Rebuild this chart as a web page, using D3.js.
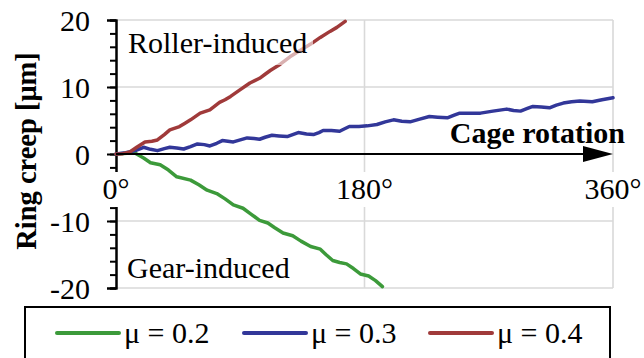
<!DOCTYPE html>
<html>
<head>
<meta charset="utf-8">
<script src="https://cdn.jsdelivr.net/npm/d3@7"></script>
<style>
  html, body { margin: 0; padding: 0; background: #fff; }
  svg { display: block; }
  svg text { font-family: "Liberation Serif", "Times New Roman", Tinos, "DejaVu Serif", serif; }
</style>
</head>
<body>
<svg id="chart" width="644" height="358"></svg>
<script>
// Ring creep versus cage rotation angle for three friction coefficients
const seriesNames = ["μ = 0.2", "μ = 0.3", "μ = 0.4"];
const seriesColors = ["#3c9a3a", "#323799", "#a03a3a"];

const anglesMu02 = [0, 8, 14, 20, 25, 32, 38, 44, 54, 60, 66, 73, 79, 85, 92, 98, 104, 110, 115, 121, 128, 134, 141, 148, 152, 157, 162, 167, 172, 177, 183, 188, 193];
const creepMu02  = [0, 0.1, 0.1, -0.6, -1.3, -1.6, -2.4, -3.4, -3.9, -4.6, -5.4, -5.9, -6.7, -7.6, -8.1, -9.0, -9.9, -10.3, -11.0, -11.8, -12.2, -13.0, -13.8, -14.2, -15.0, -15.9, -16.2, -16.4, -17.1, -17.9, -18.2, -18.9, -19.8];

const anglesMu03 = [0, 7, 14, 20, 25, 30, 35, 39, 44, 49, 54, 59, 64, 68, 73, 77, 81, 85, 90, 95, 100, 104, 108, 113, 118, 124, 128, 132, 138, 143, 147, 150, 156, 162, 166, 169, 176, 182, 189, 195, 201, 207, 213, 220, 227, 233, 240, 245, 249, 257, 264, 273, 283, 288, 293, 298, 302, 308, 314, 319, 324, 330, 336, 345, 352, 360];
const creepMu03  = [0, 0.2, 0.5, 1.0, 0.7, 0.5, 0.8, 1.0, 0.9, 0.75, 1.1, 1.5, 1.4, 1.2, 1.6, 2.0, 1.9, 1.8, 2.1, 2.4, 2.3, 2.2, 2.5, 2.8, 2.7, 2.6, 2.9, 3.2, 3.0, 2.9, 3.2, 3.5, 3.5, 3.4, 3.8, 4.1, 4.1, 4.2, 4.4, 4.8, 5.1, 4.9, 4.8, 5.2, 5.6, 5.5, 5.4, 5.8, 6.1, 6.1, 6.1, 6.4, 6.7, 6.5, 6.4, 6.8, 7.1, 7.0, 6.9, 7.3, 7.6, 7.8, 7.9, 7.8, 8.1, 8.4];

const anglesMu04 = [0, 5, 10, 15, 21, 26, 30, 35, 39, 46, 50, 54, 61, 68, 75, 79, 83, 90, 97, 104, 108, 112, 119, 126, 133, 141, 148, 155, 160, 164, 166];
const creepMu04  = [0, 0.05, 0.3, 1.0, 1.8, 1.9, 2.1, 2.9, 3.6, 4.1, 4.6, 5.1, 6.1, 6.6, 7.7, 8.1, 8.6, 9.6, 10.6, 11.3, 11.9, 12.5, 13.4, 14.5, 15.4, 16.4, 17.4, 18.3, 18.9, 19.5, 19.8];

const xTickValues = [0, 180, 360];
const xTickLabels = ["0°", "180°", "360°"];
const yMajorTicks = [-20, -10, 0, 10, 20];
const yMinorTicks = [-20, -18, -16, -14, -12, -10, -8, -6, -4, -2, 0, 2, 4, 6, 8, 10, 12, 14, 16, 18, 20];

const series = [
  { name: seriesNames[0], color: seriesColors[0], pts: anglesMu02.map((a, i) => [a, creepMu02[i]]) },
  { name: seriesNames[1], color: seriesColors[1], pts: anglesMu03.map((a, i) => [a, creepMu03[i]]) },
  { name: seriesNames[2], color: seriesColors[2], pts: anglesMu04.map((a, i) => [a, creepMu04[i]]) }
];

const svg = d3.select("#chart");
const x = d3.scaleLinear().domain([0, 360]).range([116, 613]);
const y = d3.scaleLinear().domain([-20, 20]).range([288, 20]);
const FS = 30;

// Gridlines and plot-area frame
const grid = svg.append("g").attr("stroke", "#d9d9d9").attr("stroke-width", 1.6);
[-20, -10, 10, 20].forEach(v => grid.append("line")
  .attr("x1", x(0)).attr("x2", x(360)).attr("y1", y(v)).attr("y2", y(v)));
[180, 360].forEach(v => grid.append("line")
  .attr("x1", x(v)).attr("x2", x(v)).attr("y1", y(20)).attr("y2", y(-20)));

// Y axis: major and minor ticks
const yMinor = svg.append("g").attr("transform", `translate(${x(0)},0)`)
  .call(d3.axisLeft(y).tickValues(yMinorTicks).tickSize(6).tickFormat(""));
const yMajor = svg.append("g").attr("transform", `translate(${x(0)},0)`)
  .call(d3.axisLeft(y).tickValues(yMajorTicks).tickSize(9).tickPadding(17)
    .tickFormat(d => d3.format("d")(d).replace("−", "-")));
[yMinor, yMajor].forEach(g => {
  g.attr("font-family", null);
  g.select(".domain").attr("stroke", "#000").attr("stroke-width", 2);
  g.selectAll(".tick line").attr("stroke", "#000").attr("stroke-width", 2);
});
yMajor.selectAll(".tick text")
  .attr("font-size", FS).attr("fill", "#000").attr("dy", "0.34em");

// Series lines
const line = d3.line().x(d => x(d[0])).y(d => y(d[1]));
series.forEach(s => svg.append("path")
  .datum(s.pts)
  .attr("fill", "none").attr("stroke", s.color).attr("stroke-width", 3.5)
  .attr("stroke-linejoin", "round").attr("stroke-linecap", "round")
  .attr("d", line));

// X axis with arrow
svg.append("line")
  .attr("x1", x(0)).attr("x2", x(360) - 30).attr("y1", y(0)).attr("y2", y(0))
  .attr("stroke", "#000").attr("stroke-width", 2);
svg.append("path")
  .attr("d", `M${x(360) - 30},${y(0) - 8}L${x(360)},${y(0)}L${x(360) - 30},${y(0) + 8}Z`)
  .attr("fill", "#000");

// X tick labels on white boxes
xTickValues.forEach((v, i) => {
  const g = svg.append("g");
  const t = g.append("text")
    .attr("x", x(v)).attr("y", 199).attr("text-anchor", "middle")
    .attr("font-size", FS).text(xTickLabels[i]);
  const bb = t.node().getBBox();
  g.insert("rect", "text")
    .attr("x", bb.x - 3).attr("y", 172).attr("width", bb.width + 6).attr("height", 35)
    .attr("fill", "#fff");
});

// Annotations
const roller = svg.append("g");
roller.append("rect").attr("x", 122).attr("y", 26).attr("width", 191).attr("height", 39)
  .attr("fill", "#fff").attr("fill-opacity", 0.6);
roller.append("text").attr("x", 128).attr("y", 53).attr("font-size", FS).text("Roller-induced");

svg.append("text").attr("x", 127).attr("y", 278).attr("font-size", FS).text("Gear-induced");

svg.append("text").attr("x", 625).attr("y", 143).attr("text-anchor", "end")
  .attr("font-size", 30).attr("font-weight", "bold").text("Cage rotation");

// Y axis title
svg.append("text")
  .attr("transform", "translate(36,151) rotate(-90)")
  .attr("text-anchor", "middle").attr("font-size", 28.5).attr("font-weight", "bold")
  .text("Ring creep [μm]");

// Legend
svg.append("rect").attr("x", 25).attr("y", 307).attr("width", 585).attr("height", 70)
  .attr("fill", "#fff").attr("stroke", "#000").attr("stroke-width", 2);
const legendX = [57, 244, 430];
series.forEach((s, i) => {
  svg.append("line")
    .attr("x1", legendX[i]).attr("x2", legendX[i] + 62).attr("y1", 333).attr("y2", 333)
    .attr("stroke", s.color).attr("stroke-width", 4).attr("stroke-linecap", "round");
  svg.append("text").attr("x", legendX[i] + 67).attr("y", 343)
    .attr("font-size", FS).text(s.name);
});
</script>
</body>
</html>
